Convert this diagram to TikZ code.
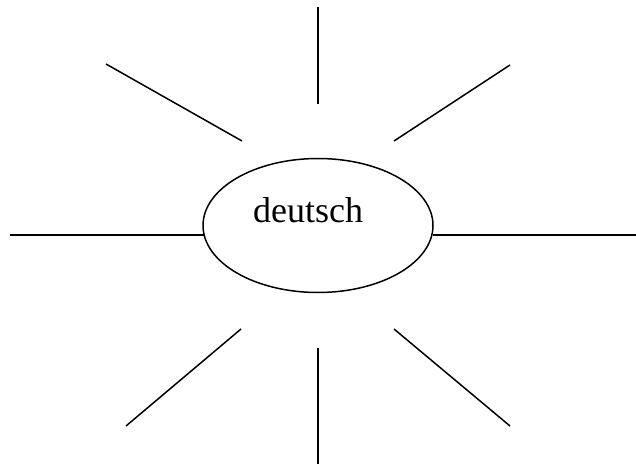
\documentclass[tikz,border=0pt]{standalone}
\usepackage{fontspec}
\setmainfont{Liberation Serif}
\usetikzlibrary{shapes.geometric}
\begin{document}
\begin{tikzpicture}[x=1pt,y=-1pt,
  ray/.style={line width=1.5pt, line cap=butt},
  hub/.style={ellipse, draw, line width=1.5pt, minimum width=230pt, minimum height=134pt, inner sep=0pt},
  word/.style={font=\fontsize{36}{40}\selectfont, anchor=base}]
\useasboundingbox (0,0) rectangle (636,465);
\node[hub] (e) at (318,225.5) {};
\node[word] (t) at (308,222) {deutsch};
% ray end points
\coordinate (n1) at (318,7);   \coordinate (n2) at (318,104);
\coordinate (s1) at (318,348); \coordinate (s2) at (318,464);
\coordinate (w1) at (10,235);  \coordinate (w2) at (203.5,235);
\coordinate (o1) at (432.5,235); \coordinate (o2) at (636,235);
\coordinate (nw1) at (106,64);  \coordinate (nw2) at (242,141);
\coordinate (ne1) at (394,141); \coordinate (ne2) at (510,65);
\coordinate (sw1) at (126,426); \coordinate (sw2) at (241,329);
\coordinate (se1) at (394,329); \coordinate (se2) at (510,426);
\draw[ray] (n1) -- (n2);
\draw[ray] (s1) -- (s2);
\draw[ray] (w1) -- (w2);
\draw[ray] (o1) -- (o2);
\draw[ray] (nw1) -- (nw2);
\draw[ray] (ne1) -- (ne2);
\draw[ray] (sw1) -- (sw2);
\draw[ray] (se1) -- (se2);
\end{tikzpicture}
\end{document}
